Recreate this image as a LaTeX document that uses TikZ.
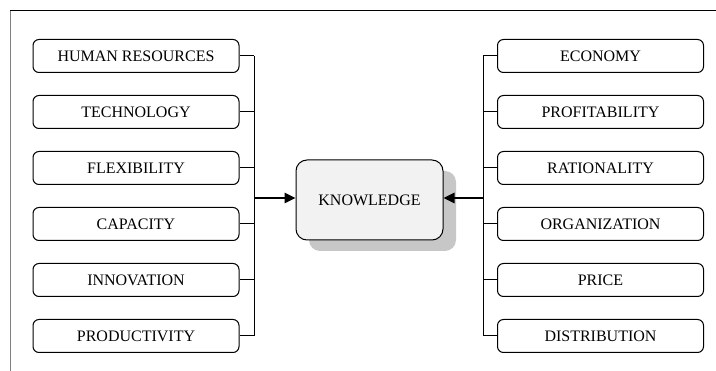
\documentclass[tikz,border=0pt]{standalone}
\usepackage{fontspec}
\setmainfont{Liberation Serif}
\usetikzlibrary{positioning}
\usetikzlibrary{arrows.meta}
\usetikzlibrary{shadows}

\begin{document}
\begin{tikzpicture}[x=1pt, y=-1pt, line width=1pt, >={Triangle[length=11pt,width=10pt]}]
            \useasboundingbox (0,0) rectangle (716,371);
            \tikzset{
                item/.style={draw, rounded corners=6pt, minimum width=206pt, minimum height=33pt,
                    inner sep=0pt, font=\fontsize{16}{19}\selectfont},
                core/.style={draw, rounded corners=11pt, minimum width=147pt, minimum height=80pt,
                    fill=black!5, font=\fontsize{16}{19}\selectfont,
                    drop shadow={shadow xshift=13pt, shadow yshift=-11pt, fill=black!22, opacity=1}}
            }
            % Frame
            \draw[gray] (10,371) -- (10,11);
            \draw (10,11) -- (716,11);

            % Centre
            \node[core] (K) at (369.5,200) {KNOWLEDGE};

            % Left column
            \foreach \t [count=\i] in {HUMAN RESOURCES, TECHNOLOGY, FLEXIBILITY, CAPACITY, INNOVATION, PRODUCTIVITY} {
                \node[item] (L\i) at (136,{56*\i}) {\t};
                \coordinate (LB\i) at (254,{56*\i});
                \draw (L\i.east) -- (LB\i);
            }
            % Right column
            \foreach \t [count=\i] in {ECONOMY, PROFITABILITY, RATIONALITY, ORGANIZATION, PRICE, DISTRIBUTION} {
                \node[item] (R\i) at (600.5,{56*\i}) {\t};
                \coordinate (RB\i) at (483,{56*\i});
                \draw (R\i.west) -- (RB\i);
            }

            % Brackets
            \draw (LB1) -- (LB6);
            \draw (RB1) -- (RB6);

            % Arrows into the centre
            \coordinate (LA) at (254,198);
            \coordinate (RA) at (483,198);
            \draw[->, line width=2.5pt] (LA) -- (LA -| K.west);
            \draw[->, line width=2.5pt] (RA) -- (RA -| K.east);
        \end{tikzpicture}
\end{document}
